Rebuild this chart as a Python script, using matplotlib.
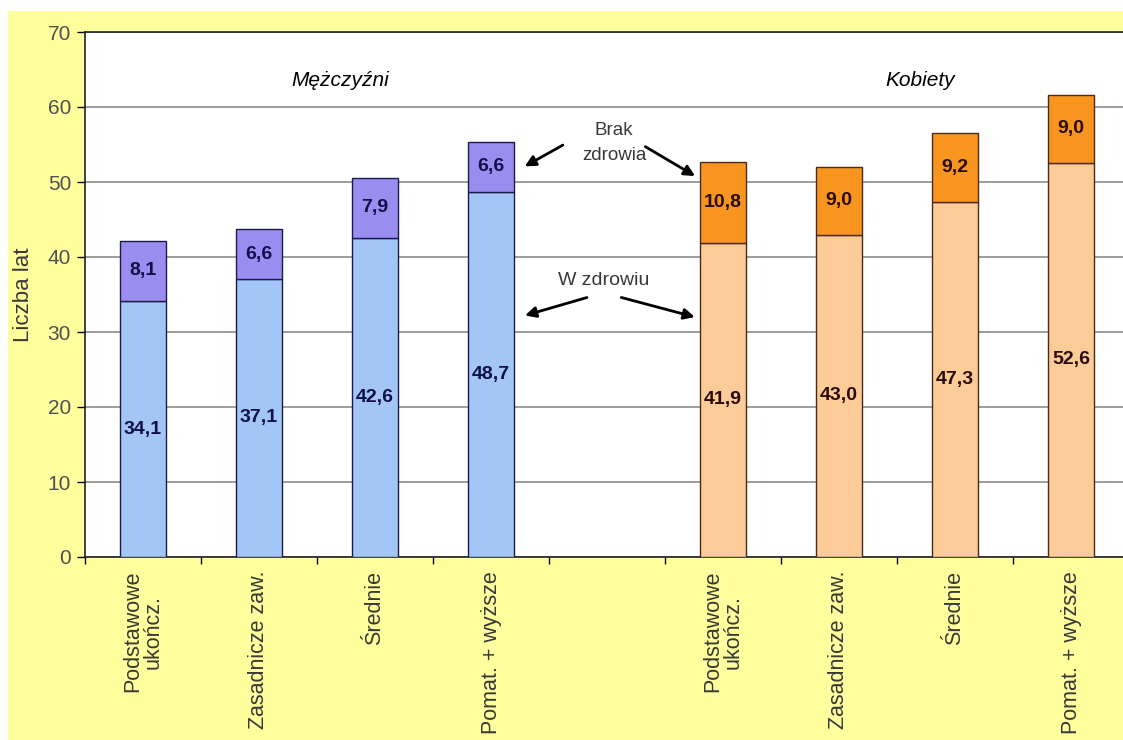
import matplotlib.pyplot as plt
import matplotlib.patches as mpatches
import numpy as np

# life expectancy at 30 by education level, split into healthy / unhealthy years
men_labels = ["Podstawowe\nukończ.", "Zasadnicze zaw.", "Średnie", "Pomat. + wyższe"]
women_labels = ["Podstawowe\nukończ.", "Zasadnicze zaw.", "Średnie", "Pomat. + wyższe"]
men_healthy = [34.1, 37.1, 42.6, 48.7]
men_unhealthy = [8.1, 6.6, 7.9, 6.6]
women_healthy = [41.9, 43.0, 47.3, 52.6]
women_unhealthy = [10.8, 9.0, 9.2, 9.0]

plt.rcParams['font.family'] = ['Liberation Sans', 'DejaVu Sans']

fig = plt.figure(figsize=(11.23, 7.40), dpi=100)
fig.patch.set_facecolor('white')
# yellow chart area, with a thin white strip on top and left
fig.add_artist(mpatches.Rectangle((8 / 1123, 0), 1, 1 - 11 / 740,
                                  transform=fig.transFigure, facecolor='#FFFF9E',
                                  edgecolor='none', zorder=0))

# axes reaches past the right edge, like the cropped original
left, right = 85 / 1123, 1129 / 1123
bottom, top = 1 - 557 / 740, 1 - 32 / 740
ax = fig.add_axes([left, bottom, right - left, top - bottom])
ax.set_facecolor('white')

x_men = np.arange(4)
x_women = np.arange(5, 9)
w = 0.4

ax.bar(x_men, men_healthy, w, color='#A3C6F7', edgecolor='#1a1a4a', linewidth=1, zorder=3)
ax.bar(x_men, men_unhealthy, w, bottom=men_healthy, color='#9B8CF0', edgecolor='#1a1a4a',
       linewidth=1, zorder=3)
ax.bar(x_women, women_healthy, w, color='#FBCB98', edgecolor='#4a2a1a', linewidth=1, zorder=3)
ax.bar(x_women, women_unhealthy, w, bottom=women_healthy, color='#F7951F', edgecolor='#4a2a1a',
       linewidth=1, zorder=3)

def fmt(v):
    return f"{v:.1f}".replace('.', ',')

for xs, hs, us, col in [(x_men, men_healthy, men_unhealthy, '#10104a'),
                        (x_women, women_healthy, women_unhealthy, '#2a0a0a')]:
    for xi, h, u in zip(xs, hs, us):
        ax.text(xi, h / 2, fmt(h), ha='center', va='center', fontsize=14,
                fontweight='bold', color=col, zorder=4)
        ax.text(xi, h + u / 2, fmt(u), ha='center', va='center', fontsize=14,
                fontweight='bold', color=col, zorder=4)

ax.set_xlim(-0.5, 8.5)
ax.set_ylim(0, 70)
ax.set_yticks(range(0, 71, 10))
ax.yaxis.grid(True, color='#8c8c8c', linewidth=1.2, zorder=1)
ax.tick_params(axis='y', direction='out', length=6, width=1, labelsize=15,
               labelcolor='#505050', pad=4)

# tick marks between categories, labels under the bars
ax.set_xticks(np.arange(-0.5, 9, 1))
ax.set_xticklabels([])
ax.tick_params(axis='x', which='major', direction='out', length=5, width=1)
ax.set_xticks(list(x_men) + list(x_women), minor=True)
ax.set_xticklabels(men_labels + women_labels, minor=True, rotation=90, va='top',
                   ha='center', fontsize=15.5, color='#383838', linespacing=1.0)
ax.tick_params(axis='x', which='minor', length=0, pad=10)

for s in ['left', 'bottom', 'top']:
    ax.spines[s].set_color('#222222')
    ax.spines[s].set_linewidth(1.2)
ax.spines['right'].set_visible(False)

ax.set_ylabel('Liczba lat', fontsize=16, color='#383838', labelpad=10)

ax.text(1.7, 63.5, 'Mężczyźni', style='italic', fontsize=15, ha='center', va='center')
ax.text(6.7, 63.5, 'Kobiety', style='italic', fontsize=15, ha='center', va='center')

ax.text(4.06, 55.2, 'Brak\nzdrowia', ha='center', va='center', fontsize=13.5,
        color='#383838', linespacing=1.6, zorder=5)
ax.text(3.97, 36.9, 'W zdrowiu', ha='center', va='center', fontsize=14,
        color='#383838', zorder=5)

arrow = dict(arrowstyle='-|>', color='black', lw=2, mutation_scale=16)
for tail, head in [((3.64, 55.1), (3.27, 51.9)), ((4.31, 54.9), (4.78, 50.6)),
                   ((3.85, 34.7), (3.27, 32.1)), ((4.10, 34.7), (4.78, 31.9))]:
    ax.annotate('', xy=head, xytext=tail, arrowprops=arrow, zorder=5)

fig.savefig('out.png', dpi=100)
